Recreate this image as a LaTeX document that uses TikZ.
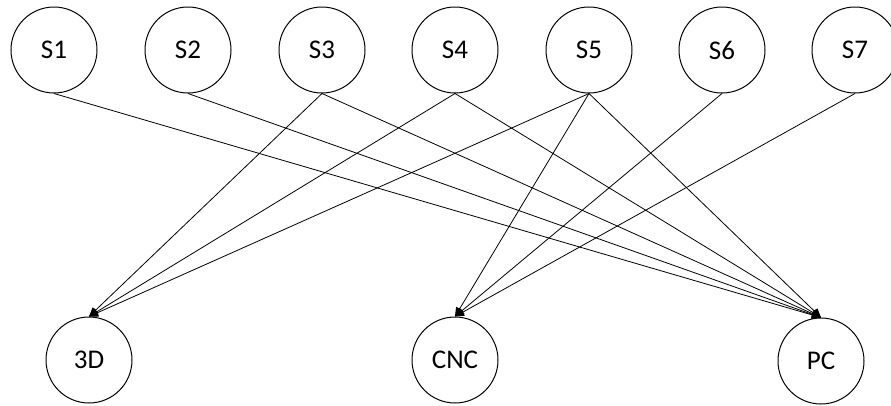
\documentclass[tikz,border=0pt]{standalone}
\usepackage{fontspec}
\setmainfont{Carlito}
\usetikzlibrary{arrows.meta}
\begin{document}
\begin{tikzpicture}[x=1pt,y=-1pt,
  state/.style={circle,draw,line width=1pt,minimum size=86pt,inner sep=0pt,
    font=\fontsize{27}{32}\selectfont},
  link/.style={line width=0.8pt,-{Triangle[length=9pt,width=8pt]}}]
\useasboundingbox (0,0) rectangle (891,405);
% sources
\node[state] (s1) at (54,50) {S1};
\node[state] (s2) at (188,50) {S2};
\node[state] (s3) at (322,50) {S3};
\node[state] (s4) at (455,50) {S4};
\node[state] (s5) at (589,50) {S5};
\node[state] (s6) at (722,50) {S6};
\node[state] (s7) at (855,50) {S7};
% targets
\node[state] (d3)  at (89,360)  {3D};
\node[state] (cnc) at (455,360) {CNC};
\node[state] (pc)  at (821,361) {PC};
% connections
\draw[link] (s1.south) -- (pc.north);
\draw[link] (s2.south) -- (pc.north);
\draw[link] (s3.south) -- (d3.north);
\draw[link] (s3.south) -- (pc.north);
\draw[link] (s4.south) -- (d3.north);
\draw[link] (s4.south) -- (pc.north);
\draw[link] (s5.south) -- (d3.north);
\draw[link] (s5.south) -- (cnc.north);
\draw[link] (s5.south) -- (pc.north);
\draw[link] (s6.south) -- (cnc.north);
\draw[link] (s7.south) -- (cnc.north);
\end{tikzpicture}
\end{document}
